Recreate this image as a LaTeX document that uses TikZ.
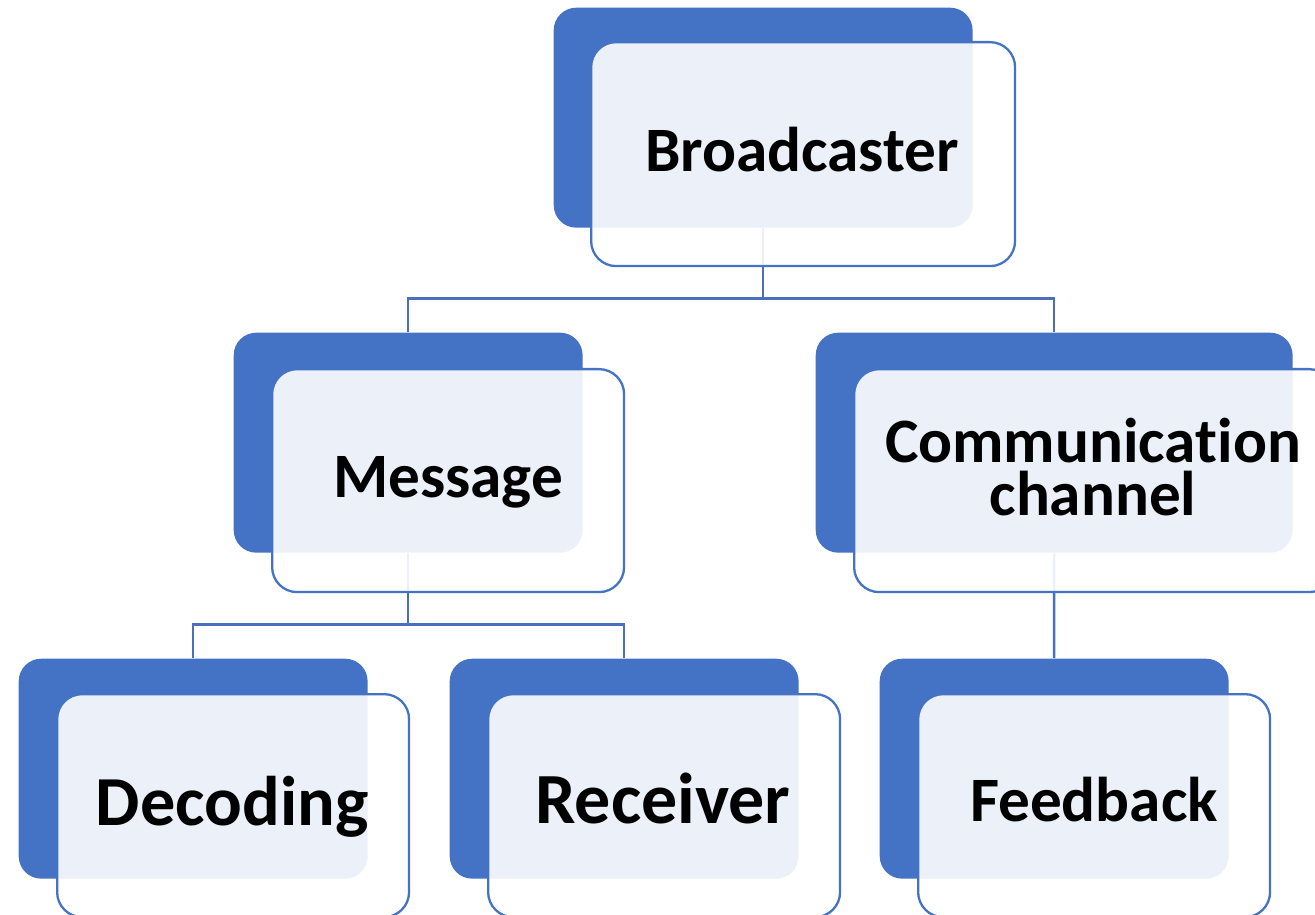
\documentclass[tikz,border=0pt]{standalone}
\usepackage{fontspec}
\setmainfont[Ligatures=NoCommon]{Carlito}
\usepackage{tikz}
\usetikzlibrary{positioning}
\definecolor{boxblue}{HTML}{4472C4}
\definecolor{lineblue}{HTML}{4A6FBF}

\begin{document}
\begin{tikzpicture}[x=0.02cm,y=-0.02cm,thick]
\tikzstyle{back} = [rectangle, rounded corners=0.45cm, fill=boxblue, anchor=north west, minimum height=4.4cm, inner sep=0pt]
\tikzstyle{front} = [rectangle, rounded corners=0.5cm, draw=boxblue, line width=1.3pt, fill=white, fill opacity=0.9, anchor=north west, minimum height=4.46cm, inner sep=0pt]
\tikzstyle{link} = [draw=lineblue, line width=1.4pt]
\tikzstyle{lbl} = [anchor=base, text=black, align=center]

\useasboundingbox (0,0) rectangle (1315,915);

% dark boxes behind
\node (bc) at (553,7) [back, minimum width=8.38cm] {};
\node (msg) at (233,332) [back, minimum width=6.98cm] {};
\node (ch) at (815,332) [back, minimum width=9.54cm] {};
\node (dec) at (18,658) [back, minimum width=6.98cm] {};
\node (rec) at (449,658) [back, minimum width=6.98cm] {};
\node (fb) at (879,658) [back, minimum width=6.98cm] {};

% tree lines
\draw[link] (bc.south) -- ++(0,70) -| (msg.north);
\draw[link] (bc.south) -- ++(0,70) -| (ch.north);
\draw[link] (msg.south) -- ++(0,71) -| (dec.north);
\draw[link] (msg.south) -- ++(0,71) -| (rec.north);
\draw[link] (ch.south) -- (fb.north);

% light boxes in front
\node (bcf) at ([shift={(37,34)}]bc.north west) [front, minimum width=8.48cm, minimum height=4.48cm] {};
\node (msgf) at ([shift={(38,36)}]msg.north west) [front, minimum width=7.04cm] {};
\node (chf) at ([shift={(38,36)}]ch.north west) [front, minimum width=9.6cm] {};
\node (decf) at ([shift={(38,35)}]dec.north west) [front, minimum width=7.04cm] {};
\node (recf) at ([shift={(38,35)}]rec.north west) [front, minimum width=7.04cm] {};
\node (fbf) at ([shift={(38,35)}]fb.north west) [front, minimum width=7.04cm] {};

% labels
\node (tbc) at (802,172) [lbl, font=\fontsize{36}{30}\selectfont\bfseries] {Broadcaster};
\node (tmsg) at (448,497) [lbl, font=\fontsize{36}{30}\selectfont\bfseries] {Message};
\node (tch) at (1093,515) [lbl, font=\fontsize{36}{29.6}\selectfont\bfseries] {Communication\\channel};
\node (tdec) at (232,825) [lbl, font=\fontsize{40}{30}\selectfont\bfseries] {Decoding};
\node (trec) at (663,823) [lbl, font=\fontsize{41}{30}\selectfont\bfseries] {Receiver};
\node (tfb) at (1094,821) [lbl, font=\fontsize{36}{30}\selectfont\bfseries] {Feedback};

\end{tikzpicture}
\end{document}
